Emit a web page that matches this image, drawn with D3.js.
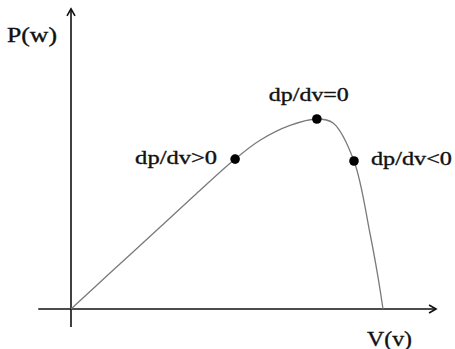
<!DOCTYPE html>
<html>
<head>
<meta charset="utf-8">
<script src="https://cdn.jsdelivr.net/npm/d3@7"></script>
<style>
  html, body { margin: 0; padding: 0; background: #fff; }
  svg { display: block; }
  text { font-family: "Liberation Serif", "Times New Roman", Times, serif; fill: #111; stroke: #111; stroke-width: 0.35; }
</style>
</head>
<body>
<svg id="chart" width="455" height="349"></svg>
<script>
// ---- data (relative units: V in % of Voc, P in % of Pmax) ----
const voltage = [0, 12.5, 28.5, 40, 52.6, 60.6, 70.2, 78.8, 84, 90.7, 95.8, 98.4, 100];
const power   = [0, 18.9, 43.0, 60.4, 78.9, 88.8, 96.6, 100, 97.9, 77.9, 40, 16.8, 0];

const markerLabels = ["dp/dv>0", "dp/dv=0", "dp/dv<0"];
const markerV = [52.6, 78.8, 90.7];
const markerP = [78.9, 100, 77.9];

const axisLabels = { x: "V(v)", y: "P(w)" };
const xAxisExtent = [-10.5, 117];
const yAxisExtent = [-9.5, 158];

// ---- scales ----
const x = d3.scaleLinear().domain([0, 100]).range([71, 383]);
const y = d3.scaleLinear().domain([0, 100]).range([309, 119]);

const svg = d3.select("#chart");

// axes
const axisG = svg.append("g").attr("stroke", "#111").attr("stroke-width", 1.6).attr("fill", "none");
axisG.append("line")
  .attr("x1", x(xAxisExtent[0])).attr("y1", y(0))
  .attr("x2", x(xAxisExtent[1])).attr("y2", y(0));
axisG.append("line")
  .attr("x1", x(0)).attr("y1", y(yAxisExtent[0]))
  .attr("x2", x(0)).attr("y2", y(yAxisExtent[1]));

// arrow heads (open chevrons)
const xt = x(xAxisExtent[1]), yt = y(0);
axisG.append("path").attr("d", `M${xt-7},${yt-4} L${xt},${yt} L${xt-7},${yt+4}`);
const vx = x(0), vy = y(yAxisExtent[1]);
axisG.append("path").attr("d", `M${vx-4},${vy+7} L${vx},${vy} L${vx+4},${vy+7}`);

// curve
const pts = voltage.map((v, i) => [v, power[i]]);
const line = d3.line().x(d => x(d[0])).y(d => y(d[1])).curve(d3.curveCatmullRom.alpha(0.5));
svg.append("path")
  .datum(pts)
  .attr("d", line)
  .attr("fill", "none")
  .attr("stroke", "#7a7a7a")
  .attr("stroke-width", 1.3);

// markers
svg.selectAll("circle.m")
  .data(markerV)
  .enter().append("circle")
  .attr("class", "m")
  .attr("cx", d => x(d))
  .attr("cy", (d, i) => y(markerP[i]))
  .attr("r", 4.8)
  .attr("fill", "#000");

// marker labels
const labelCfg = [
  { anchor: "end",    dx: -18, dy: 5,   len: 82 },
  { anchor: "middle", dx: -8,  dy: -18, len: 80 },
  { anchor: "start",  dx: 17,  dy: 4,   len: 81 }
];
svg.selectAll("text.ml")
  .data(markerLabels)
  .enter().append("text")
  .attr("class", "ml")
  .attr("x", (d, i) => x(markerV[i]) + labelCfg[i].dx)
  .attr("y", (d, i) => y(markerP[i]) + labelCfg[i].dy)
  .attr("text-anchor", (d, i) => labelCfg[i].anchor)
  .attr("font-size", 19)
  .attr("textLength", (d, i) => labelCfg[i].len)
  .attr("lengthAdjust", "spacingAndGlyphs")
  .text(d => d);

// axis labels
svg.append("text")
  .attr("x", 7).attr("y", 42)
  .attr("font-size", 20)
  .attr("textLength", 50).attr("lengthAdjust", "spacingAndGlyphs")
  .text(axisLabels.y);
svg.append("text")
  .attr("x", 367).attr("y", 346)
  .attr("font-size", 20)
  .attr("textLength", 45).attr("lengthAdjust", "spacingAndGlyphs")
  .text(axisLabels.x);
</script>
</body>
</html>
